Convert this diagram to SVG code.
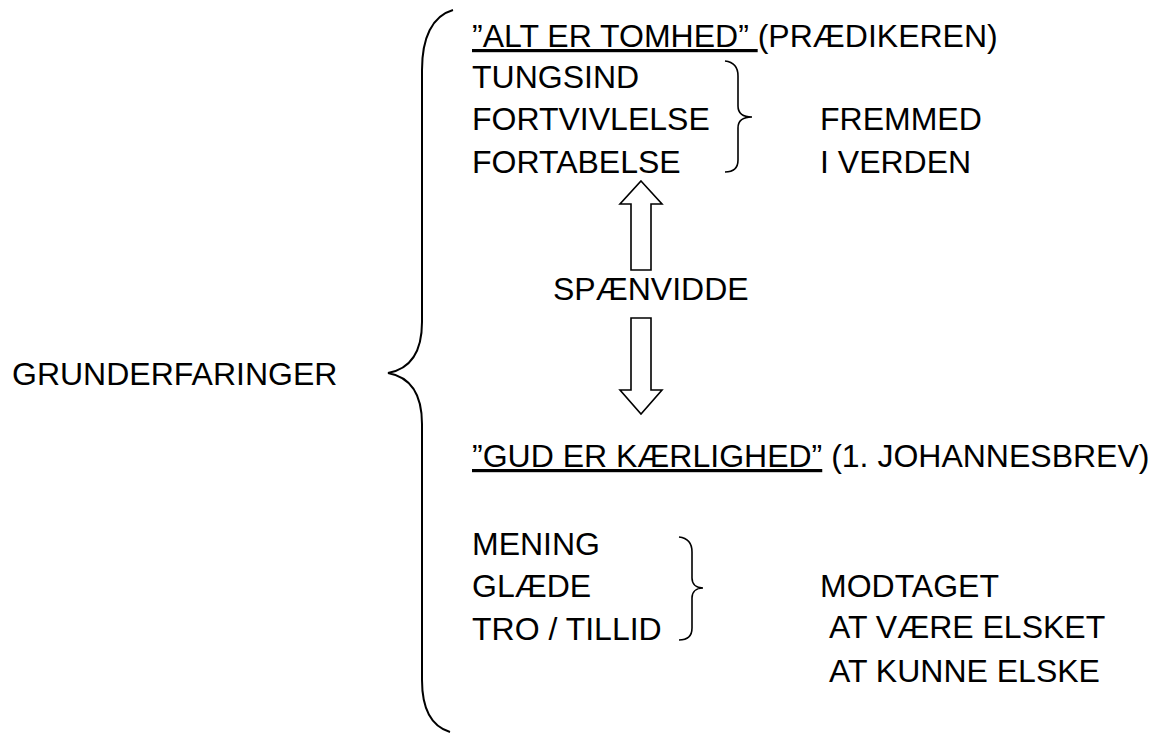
<svg xmlns="http://www.w3.org/2000/svg" width="1160" height="734" viewBox="0 0 1160 734">
<style>
text{font-family:"Liberation Sans",Arial,sans-serif;font-size:32px;fill:#000}
.u{text-decoration:underline}
.br{fill:none;stroke:#000;stroke-width:2}
.sb{fill:none;stroke:#000;stroke-width:1.6}
.ar{fill:#fff;stroke:#000;stroke-width:1.6;stroke-linejoin:miter}
</style>
<rect width="1160" height="734" fill="#fff"/>
<g id="root">
<text x="12" y="385">GRUNDERFARINGER</text>
</g>
<g id="top">
<text x="472" y="47"><tspan class="u">”ALT ER TOMHED” </tspan>(PRÆDIKEREN)</text>
<text x="472" y="88">TUNGSIND</text>
<text x="472" y="130">FORTVIVLELSE</text>
<text x="472" y="173">FORTABELSE</text>
<text x="820" y="130">FREMMED</text>
<text x="820" y="173">I VERDEN</text>
</g>
<g id="middle">
<text x="553" y="300">SPÆNVIDDE</text>
</g>
<g id="bottom">
<text x="472" y="467"><tspan class="u">”GUD ER KÆRLIGHED”</tspan> (1. JOHANNESBREV)</text>
<text x="472" y="555">MENING</text>
<text x="472" y="597">GLÆDE</text>
<text x="472" y="640">TRO / TILLID</text>
<text x="820" y="597">MODTAGET</text>
<text x="829" y="638">AT VÆRE ELSKET</text>
<text x="829" y="682">AT KUNNE ELSKE</text>
</g>
<g id="connectors">
<path class="br" d="M453,10 C432,16 422,38 422,70 L422,322 C422,352 410,369 388,373 C410,377 422,394 422,424 L422,680 C422,708 430,726 450,732"/>
<path class="sb" d="M725,61 C734,62 738,67 738,76 L738,106 C738,113 743,117 752,117 C743,117 738,121 738,128 L738,160 C738,168 734,172 725,172"/>
<path class="sb" d="M679,537 C688,538 692,543 692,552 L692,578 C692,584 696,588 703,588 C696,588 692,592 692,598 L692,628 C692,636 688,640 679,640"/>
<path class="ar" d="M641,181 L662,204 L651,204 L651,270 L631,270 L631,204 L620,204 Z"/>
<path class="ar" d="M631,318 L651,318 L651,390 L662,390 L641,414 L620,390 L631,390 Z"/>
</g>
</svg>
